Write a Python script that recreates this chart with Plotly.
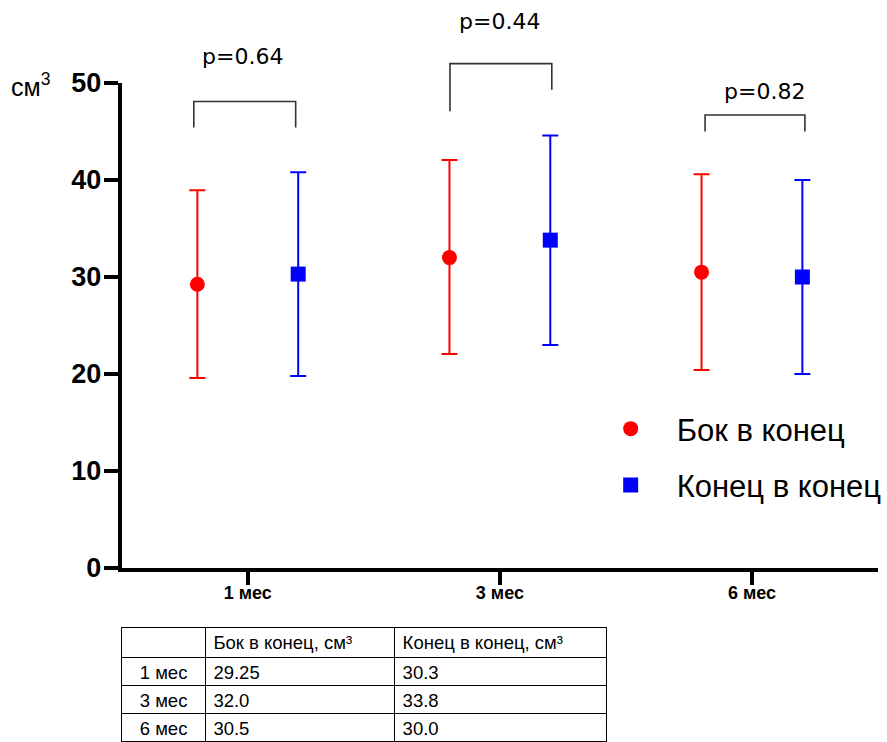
import plotly.graph_objects as go

# ---- data ----
categories = ["1 мес", "3 мес", "6 мес"]
series_names = ["Бок в конец", "Конец в конец"]
bok_mean = [29.25, 32.0, 30.5]
bok_upper = [38.95, 42.05, 40.6]
bok_lower = [19.6, 22.05, 20.4]
kon_mean = [30.3, 33.8, 30.0]
kon_upper = [40.8, 44.6, 40.0]
kon_lower = [19.8, 23.0, 20.0]
p_labels = ["p=0.64", "p=0.44", "p=0.82"]
y_ticks = [0, 10, 20, 30, 40, 50]
table_header = ["", "Бок в конец, см³", "Конец в конец, см³"]

# ---- layout constants ----
W, H = 887, 742
OFFSET = 0.2
Y_MAX = 50
PX_ZERO, PX_TOP = 568, 83            # pixel rows of y=0 and y=50
X_LEFT, X_RIGHT = 122, 880
bracket_top = [48.1, 52.0, 46.7]
bracket_left_end = [45.4, 47.1, 45.0]
bracket_right_end = [45.4, 49.3, 45.0]
bracket_dx_left = [-0.214, -0.198, -0.186]
bracket_dx_right = [0.190, 0.206, 0.210]
p_label_y = [52.7, 56.3, 49.1]
p_label_dx = [-0.02, 0.0, 0.05]

FONT = "Liberation Sans, Arial, sans-serif"
RED = "#ff0000"
BLUE = "#0000ff"

idx = list(range(len(categories)))
x_bok = [i - OFFSET for i in idx]
x_kon = [i + OFFSET for i in idx]

fig = go.Figure()


def add_series(xs, mean, upper, lower, color, symbol, name):
    fig.add_trace(go.Scatter(
        x=xs, y=mean, mode="markers", name=name, showlegend=False,
        marker=dict(color=color, size=15, symbol=symbol),
        error_y=dict(type="data", symmetric=False,
                     array=[u - m for u, m in zip(upper, mean)],
                     arrayminus=[m - l for m, l in zip(mean, lower)],
                     color=color, thickness=2, width=8),
        cliponaxis=False,
    ))
    fig.add_trace(go.Scatter(
        x=[None], y=[None], mode="markers", name=name, legendgroup=name,
        marker=dict(color=color, size=15, symbol=symbol),
    ))


add_series(x_bok, bok_mean, bok_upper, bok_lower, RED, "circle", series_names[0])
add_series(x_kon, kon_mean, kon_upper, kon_lower, BLUE, "square", series_names[1])

# brackets + p-values on an invisible overlay subplot that shares the y scale
# but extends to the top of the figure (so nothing is clipped above 50)
for i in idx:
    xl, xr = i + bracket_dx_left[i], i + bracket_dx_right[i]
    fig.add_shape(type="path", xref="x2", yref="y2",
                  path=f"M {xl},{bracket_left_end[i]} L {xl},{bracket_top[i]} "
                       f"L {xr},{bracket_top[i]} L {xr},{bracket_right_end[i]}",
                  line=dict(color="#333333", width=1.6))
    fig.add_annotation(x=i + p_label_dx[i], y=p_label_y[i], xref="x2", yref="y2",
                       text=p_labels[i], showarrow=False, xanchor="center", yanchor="middle",
                       font=dict(family="DejaVu Sans", size=22, color="black"))

# unit label
fig.add_annotation(x=9 / W, y=49.8, xref="paper", yref="y", text="см<sup>3</sup>",
                   showarrow=False, xanchor="left", yanchor="middle",
                   font=dict(family=FONT, size=25, color="black"))

# table
fig.add_trace(go.Table(
    domain=dict(x=[122 / W, 609 / W], y=[0, (H - 627) / H]),
    columnwidth=[84, 190, 213],
    header=dict(values=table_header, height=30, align=["center", "left", "left"],
                fill_color="white", line=dict(color="black", width=1),
                font=dict(family=FONT, size=18.5, color="black")),
    cells=dict(values=[categories, [str(v) for v in bok_mean], [str(v) for v in kon_mean]],
               height=28, align=["center", "left", "left"],
               fill_color="white", line=dict(color="black", width=1),
               font=dict(family=FONT, size=18.5, color="black")),
))

y_dom = [(H - PX_ZERO) / H, (H - PX_TOP) / H]
x_dom = [X_LEFT / W, X_RIGHT / W]
overlay_top = Y_MAX * PX_ZERO / (PX_ZERO - PX_TOP)

fig.update_layout(
    width=W, height=H, autosize=False,
    margin=dict(l=0, r=0, t=0, b=0, pad=0),
    paper_bgcolor="white", plot_bgcolor="rgba(0,0,0,0)",
    showlegend=True,
    legend=dict(x=586 / W, y=(H - 457) / H, xanchor="left", yanchor="middle",
                font=dict(family=FONT, size=31, color="black"),
                itemwidth=82, tracegroupgap=13, bgcolor="rgba(0,0,0,0)"),
    xaxis=dict(domain=x_dom, range=[-0.5, 2.5],
               tickvals=idx, ticktext=categories,
               showline=True, linewidth=4, linecolor="black",
               ticks="outside", ticklen=13, tickwidth=4, tickcolor="black",
               ticklabelstandoff=-8,
               tickfont=dict(family=FONT, size=18, color="black", weight="bold"),
               showgrid=False, zeroline=False, automargin=False),
    yaxis=dict(domain=y_dom, range=[0, Y_MAX],
               tickvals=y_ticks,
               showline=True, linewidth=4, linecolor="black",
               ticks="outside", ticklen=14, tickwidth=4, tickcolor="black",
               ticklabelstandoff=-3,
               tickfont=dict(family=FONT, size=27, color="black", weight="bold"),
               showgrid=False, zeroline=False, automargin=False),
    xaxis2=dict(domain=x_dom, range=[-0.5, 2.5], anchor="y2", visible=False,
                showgrid=False, zeroline=False, fixedrange=True),
    yaxis2=dict(domain=[(H - PX_ZERO) / H, 1], range=[0, overlay_top], anchor="x2",
                visible=False, showgrid=False, zeroline=False, fixedrange=True),
)

fig.write_html(
    "out.html",
    config={"responsive": False, "displayModeBar": False},
    post_script="document.body.style.margin='0';document.body.style.overflow='hidden';",
)
